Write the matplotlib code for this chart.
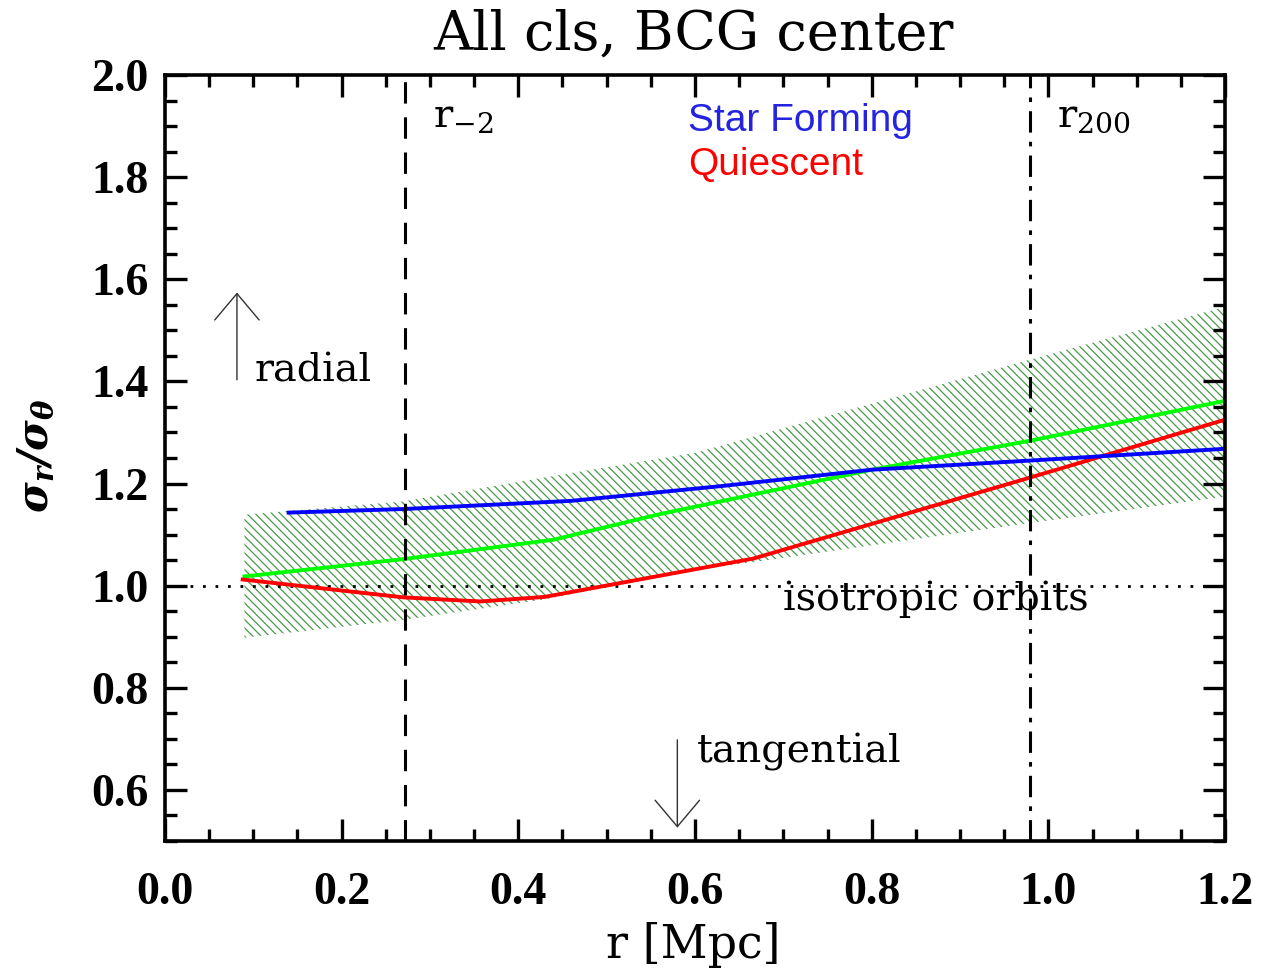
import numpy as np
import matplotlib
matplotlib.use("Agg")
import matplotlib.pyplot as plt
from matplotlib.ticker import MultipleLocator

plt.rcParams['mathtext.fontset'] = 'custom'
plt.rcParams['mathtext.rm'] = 'DejaVu Serif'
plt.rcParams['mathtext.it'] = 'DejaVu Serif:italic'
plt.rcParams['mathtext.bf'] = 'DejaVu Serif:italic:bold'
plt.rcParams['hatch.linewidth'] = 0.9

# values
r_sf = [0.14, 0.27, 0.46, 0.63, 0.80, 0.98, 1.20]
sf = [1.143, 1.150, 1.166, 1.195, 1.227, 1.245, 1.268]

r_q = [0.088, 0.27, 0.357, 0.43, 0.666, 0.98, 1.20]
q = [1.012, 0.977, 0.969, 0.978, 1.053, 1.212, 1.325]

r_all = [0.09, 0.27, 0.44, 0.56, 0.80, 0.98, 1.20]
allc = [1.018, 1.052, 1.090, 1.140, 1.227, 1.284, 1.362]

r_band = [0.09, 0.27, 0.43, 0.60, 0.98, 1.20]
band_hi = [1.139, 1.165, 1.212, 1.260, 1.443, 1.546]
band_lo = [0.898, 0.933, 0.973, 1.030, 1.123, 1.174]

r_m2 = 0.272
r_200 = 0.979

xticks = [0.0, 0.2, 0.4, 0.6, 0.8, 1.0, 1.2]
yticks = [0.6, 0.8, 1.0, 1.2, 1.4, 1.6, 1.8, 2.0]

fig = plt.figure(figsize=(12.61, 9.74), dpi=100)
ax = fig.add_axes([0.1308, 0.1366, 0.9715 - 0.1308, 0.923 - 0.1366])

ax.fill_between(r_band, band_lo, band_hi, facecolor='none',
                edgecolor='#4a984a', hatch='\\\\\\\\', linewidth=0)
ax.axhline(1.0, color='black', linestyle=(0, (1, 3.5)), linewidth=2)
ax.plot(r_all, allc, color='#00ff00', linewidth=2.8)
ax.plot(r_q, q, color='#ff0000', linewidth=2.8)
ax.plot(r_sf, sf, color='#0000ff', linewidth=2.8)
ax.axvline(r_m2, color='black', linestyle=(0, (7, 4.5)), linewidth=2.2)
ax.axvline(r_200, color='black', linestyle=(0, (7, 3, 1.5, 3)), linewidth=2.2)

ax.annotate('', xy=(0.0815, 1.574), xytext=(0.0815, 1.403),
            arrowprops=dict(arrowstyle='->,head_length=0.95,head_width=0.8',
                            color='#333333', lw=1, mutation_scale=20,
                            shrinkA=0, shrinkB=0))
ax.annotate('', xy=(0.58, 0.526), xytext=(0.58, 0.698),
            arrowprops=dict(arrowstyle='->,head_length=0.95,head_width=0.8',
                            color='#333333', lw=1, mutation_scale=20,
                            shrinkA=0, shrinkB=0))

tf = dict(family='DejaVu Serif', fontsize=28.5)
ax.text(0.102, 1.421, 'radial', va='center', **tf)
ax.text(0.602, 0.675, 'tangential', va='center', **tf)
ax.text(0.700, 0.973, 'isotropic orbits', va='center', **tf)
ax.text(0.303, 1.899, r'r$_{-2}$', va='baseline', family='DejaVu Serif', fontsize=29)
ax.text(1.010, 1.899, r'r$_{200}$', va='baseline', family='DejaVu Serif', fontsize=29)
ax.text(0.592, 1.909, 'Star Forming', va='center', color='#2424e0',
        family='Liberation Sans', fontsize=28)
ax.text(0.592, 1.823, 'Quiescent', va='center', color='#ff0000',
        family='Liberation Sans', fontsize=28)

ax.set_xlim(0.0, 1.2)
ax.set_ylim(0.5, 2.0)
ax.set_xticks(xticks)
ax.set_yticks(yticks)
ax.set_xticklabels(['%.1f' % v for v in xticks])
ax.set_yticklabels(['%.1f' % v for v in yticks])
ax.xaxis.set_minor_locator(MultipleLocator(0.05))
ax.yaxis.set_minor_locator(MultipleLocator(0.05))
ax.tick_params(which='both', direction='in', top=True, right=True, width=2.4)
ax.tick_params(which='major', length=16)
ax.tick_params(which='minor', length=8.5)
ax.tick_params(axis='x', which='major', pad=22)
ax.tick_params(axis='y', which='major', pad=12)
for lab in ax.get_xticklabels() + ax.get_yticklabels():
    lab.set_family('Liberation Serif')
    lab.set_fontweight('bold')
    lab.set_fontsize(33)
for s in ax.spines.values():
    s.set_linewidth(2.6)

fig.text(693 / 1261, 1 - 35 / 974, 'All cls, BCG center', ha='center', va='center',
         family='DejaVu Serif', fontsize=39)
fig.text(693 / 1261, 1 - 945 / 974, 'r [Mpc]', ha='center', va='center',
         family='DejaVu Serif', fontsize=33)
fig.text(35 / 1261, 1 - 455 / 974, r'$\mathbf{\sigma_r/\sigma_\theta}$', ha='center',
         va='center', rotation=90, fontsize=30)

fig.savefig('out.png', dpi=100)
